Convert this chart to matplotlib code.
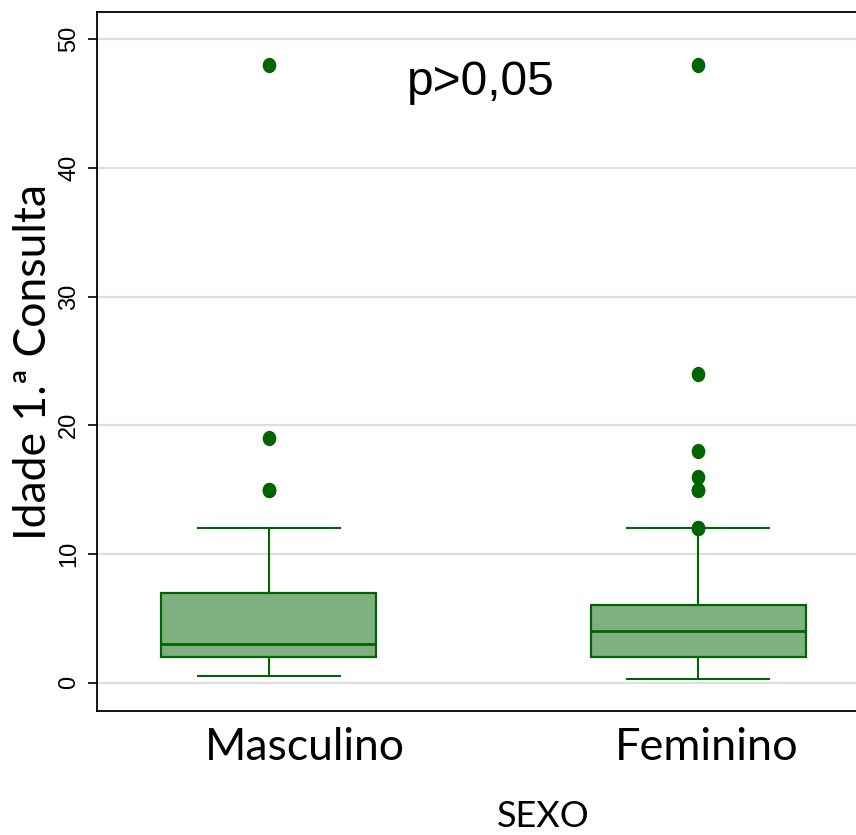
import matplotlib
matplotlib.use('Agg')
import matplotlib.pyplot as plt
from matplotlib.path import Path
from matplotlib.transforms import Affine2D

# data
groups = ['Masculino', 'Feminino']
q1 = [2.0, 2.0]
medians = [3.0, 4.0]
q3 = [7.0, 6.0]
whis_lo = [0.5, 0.25]
whis_hi = [12.0, 12.0]
outliers = [[15, 15, 19, 48],
            [12, 12, 15, 15, 16, 18, 24, 48]]
yticks = [0, 10, 20, 30, 40, 50]
ptext = 'p>0,05'

green = '#006400'
fill = '#80b080'

fig = plt.figure(figsize=(8.56, 8.35), dpi=100)
ax = fig.add_axes([97/856, 124/835, 773/856, 699/835])

stats = []
for i in range(len(groups)):
    stats.append(dict(q1=q1[i], med=medians[i], q3=q3[i],
                      whislo=whis_lo[i], whishi=whis_hi[i],
                      fliers=outliers[i], label=groups[i]))

oval = Path.unit_circle().transformed(Affine2D().scale(0.88, 1.0))

ax.bxp(stats, positions=[1, 2], widths=0.5, capwidths=0.33,
       patch_artist=True, showfliers=True,
       boxprops=dict(facecolor=fill, edgecolor=green, linewidth=1.6),
       medianprops=dict(color=green, linewidth=2.0),
       whiskerprops=dict(color=green, linewidth=1.5),
       capprops=dict(color=green, linewidth=1.5),
       flierprops=dict(marker=oval, markersize=10, markerfacecolor=green,
                       markeredgecolor=green, linestyle='none'),
       zorder=3)

ax.set_xlim(0.6, 2.4)
ax.set_ylim(-2.2, 52.12)
ax.set_yticks(yticks)
ax.set_yticklabels([str(t) for t in yticks], rotation=90, va='center',
                   fontsize=17, family='Liberation Sans')
ax.tick_params(axis='y', length=6.5, width=1.2, pad=5.5, color='black')
ax.set_xticks([])
ax.yaxis.grid(True, color='#dedede', linewidth=1.6, zorder=0)
ax.set_axisbelow(True)

for s in ['left', 'top', 'bottom']:
    ax.spines[s].set_linewidth(1.3)
ax.spines['right'].set_visible(False)

# category labels (placed like the original, not centred on boxes)
ax.text(1.084, -0.07, groups[0], transform=ax.get_xaxis_transform(),
        ha='center', va='baseline', fontsize=32, family='Lato')
ax.text(2.02, -0.07, groups[1], transform=ax.get_xaxis_transform(),
        ha='center', va='baseline', fontsize=32.5, family='Lato')

fig.text(543/856, 1 - 827/835, 'SEXO', ha='center', va='baseline',
         fontsize=26, family='Lato')

ax.text(481/856, 1 - 95/835, ptext, transform=fig.transFigure,
        ha='center', va='baseline', fontsize=34.5, family='Liberation Sans')

fig.text(34/856, 1 - 362/835, 'Idade 1.ª Consulta', rotation=90,
         ha='center', va='center', fontsize=32, family='Lato',
         bbox=dict(facecolor='white', edgecolor='none', pad=0))

plt.savefig('out.png', dpi=100)
